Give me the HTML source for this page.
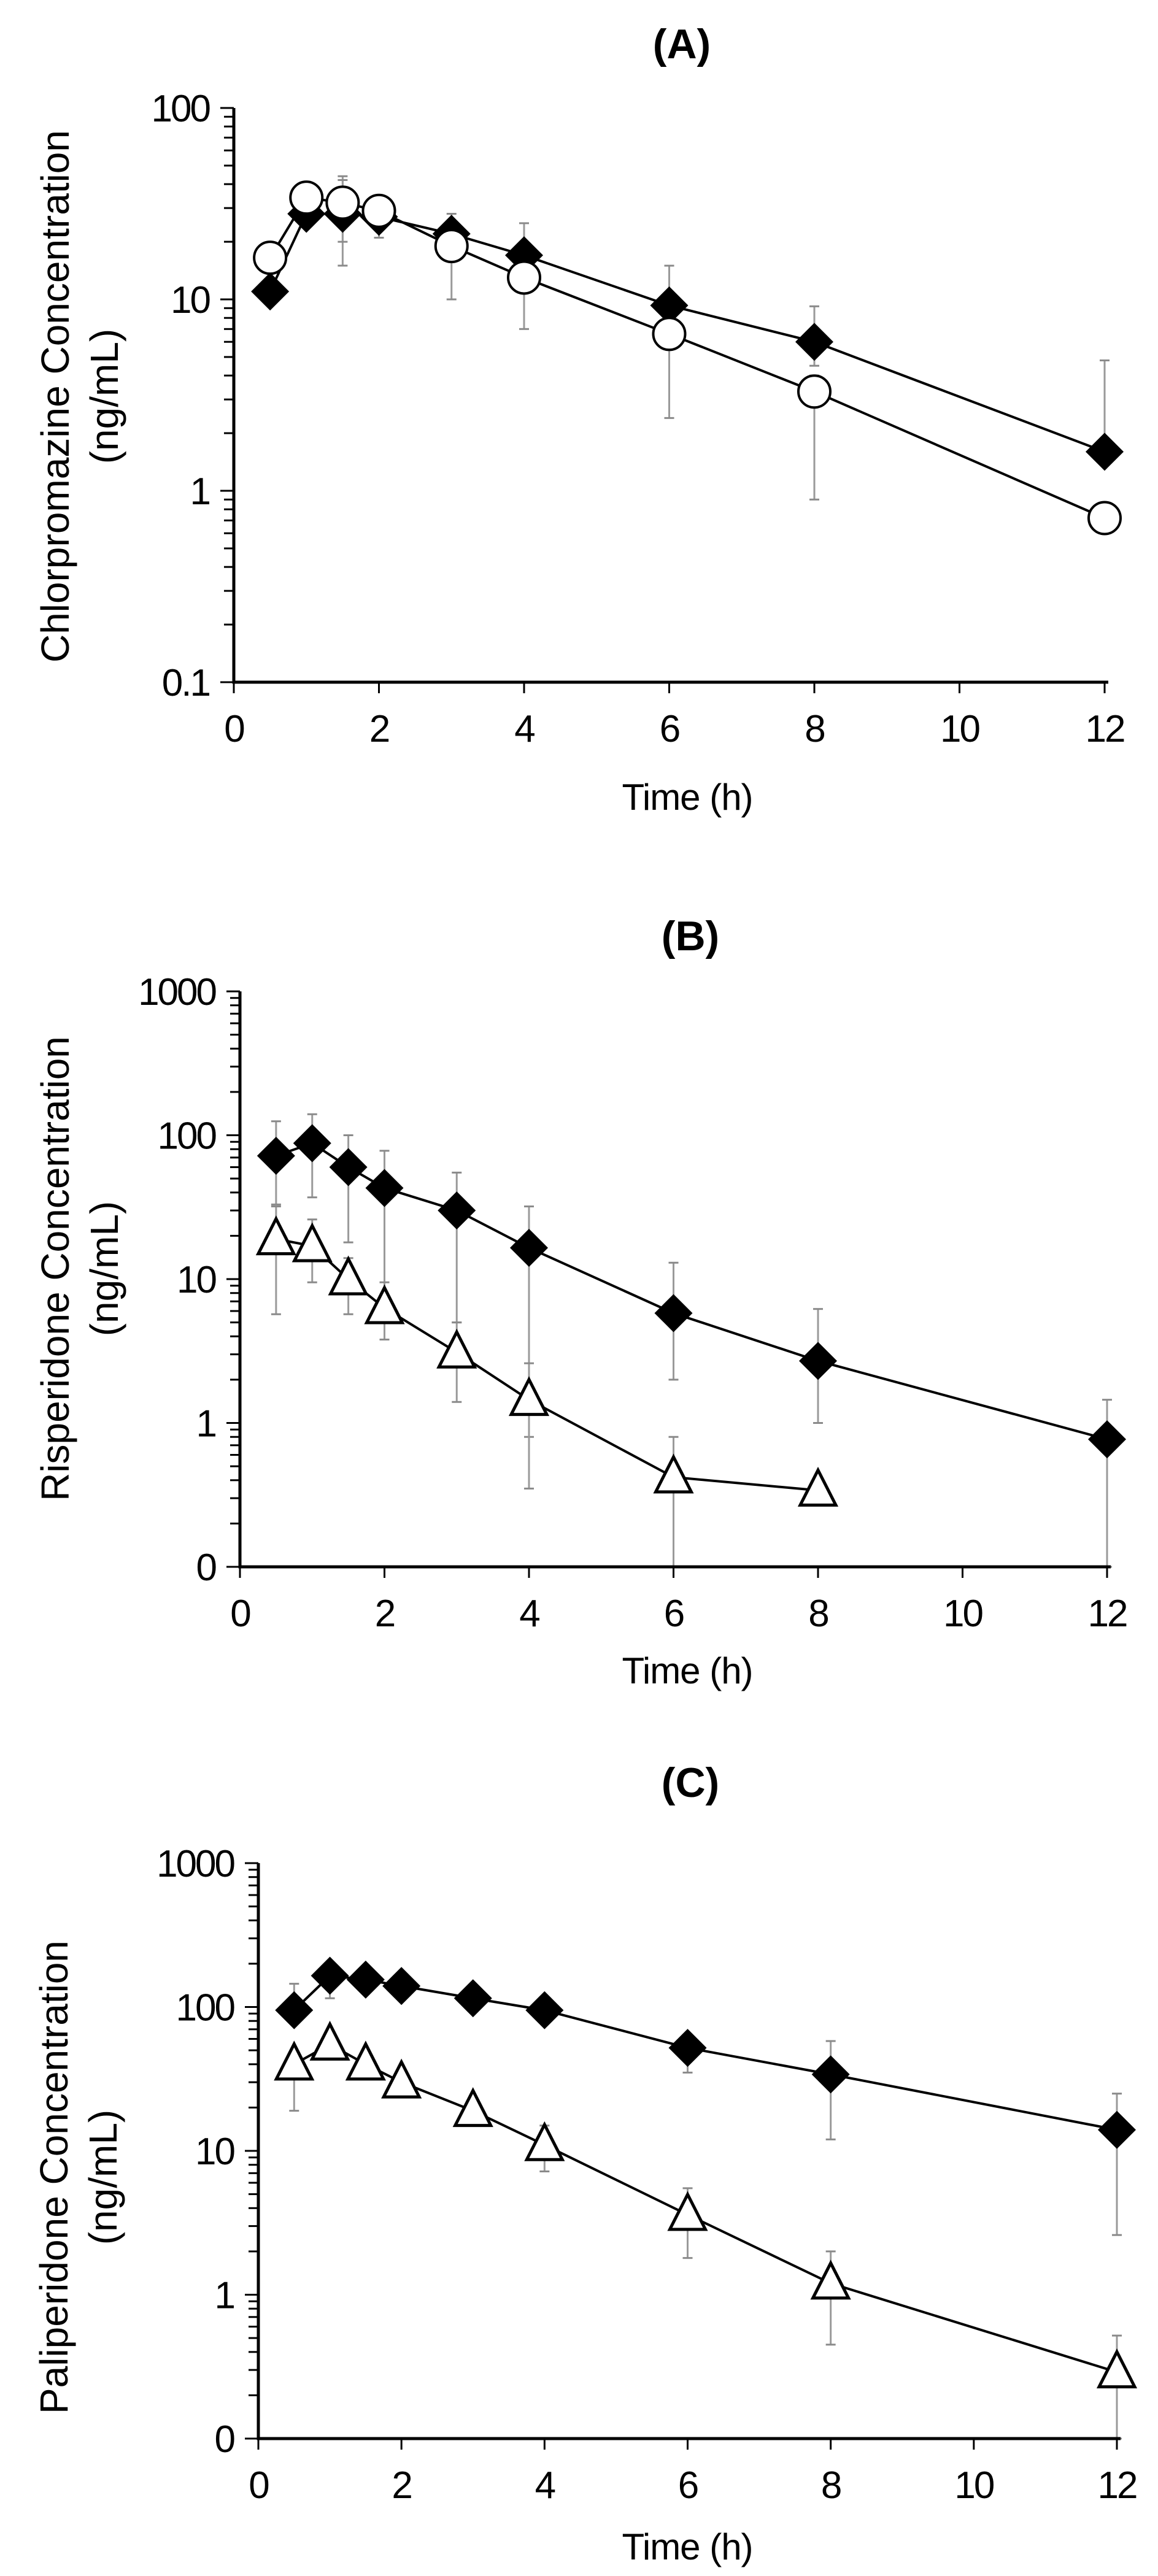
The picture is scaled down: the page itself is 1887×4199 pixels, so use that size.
<!DOCTYPE html>
<html><head><meta charset="utf-8">
<style>
html,body{margin:0;padding:0;background:#fff;}
svg{display:block;font-family:"Liberation Sans",Arial,sans-serif;}
</style></head>
<body>
<svg id="fig" width="1887" height="4199" viewBox="0 0 1887 4199" xmlns="http://www.w3.org/2000/svg"></svg>
<script>
// ---- data ----
const times = [0.5, 1, 1.5, 2, 3, 4, 6, 8, 12];
const xTickLabels = ["0","2","4","6","8","10","12"];
const xTickValues = [0,2,4,6,8,10,12];

// Panel A: chlorpromazine
const aDiamond = [11, 28, 28, 27, 22, 17, 9.3, 6, 1.6];
const aDiamondHi = [12, 33, 44, 33, 28, 25, 15, 9.2, 4.8];
const aDiamondLo = [10, 24, 15, 21, 18, 14, 7, 4.5, 1.6];
const aCircle = [16.5, 34, 32, 29, 19, 13, 6.6, 3.3, 0.72];
const aCircleHi = [17, 36, 42, 35, 24, 15, 8, 4, 0.8];
const aCircleLo = [16, 30, 20, 24, 10, 7, 2.4, 0.9, 0.7];
const aTickLabels = ["0.1","1","10","100"];
const aTickValues = [0.1, 1, 10, 100];

// Panel B: risperidone
const bDiamond = [72, 88, 60, 43, 30, 16.5, 5.8, 2.7, 0.77];
const bDiamondHi = [125, 140, 100, 78, 55, 32, 13, 6.2, 1.45];
const bDiamondLo = [33, 37, 18, 5, 5, 0.8, 2, 1, 0.1];
const bTriTimes = [0.5, 1, 1.5, 2, 3, 4, 6, 8];
const bTri = [19, 17, 10, 6.3, 3.1, 1.45, 0.42, 0.34];
const bTriHi = [32, 26, 14, 9.5, 5, 2.6, 0.8, 0.34];
const bTriLo = [5.7, 9.5, 5.7, 3.8, 1.4, 0.35, 0.1, 0.34];
const bTickLabels = ["0","1","10","100","1000"];
const bTickValues = [0.1, 1, 10, 100, 1000];

// Panel C: paliperidone
const cDiamond = [95, 165, 155, 140, 115, 95, 52, 34, 14];
const cDiamondHi = [145, 180, 165, 150, 125, 105, 60, 58, 25];
const cDiamondLo = [80, 115, 140, 125, 100, 85, 35, 12, 2.6];
const cTri = [40, 55, 40, 30, 19, 11, 3.6, 1.2, 0.29];
const cTriHi = [45, 60, 45, 33, 21, 15, 5.5, 2, 0.52];
const cTriLo = [19, 45, 35, 25, 16, 7.2, 1.8, 0.45, 0.1];
const cTickLabels = ["0","1","10","100","1000"];
const cTickValues = [0.1, 1, 10, 100, 1000];

const NS = "http://www.w3.org/2000/svg";
const svg = document.getElementById("fig");
function mk(tag, attrs, parent){
  const e = document.createElementNS(NS, tag);
  for (const k in attrs) e.setAttribute(k, attrs[k]);
  (parent||svg).appendChild(e);
  return e;
}

function panel(cfg){
  const g = mk("g", {});
  
  
  const x0 = cfg.x0, x1 = cfg.x1, yTop = cfg.yTop, yBot = cfg.yBot;
  const lmin = Math.log10(cfg.ymin), lmax = Math.log10(cfg.ymax);
  const X = t => x0 + (x1 - x0) * t / 12;
  const Y = v => yBot - (yBot - yTop) * (Math.log10(v) - lmin) / (lmax - lmin);

  // title
  const t = mk("text", {x: cfg.titleX, y: cfg.titleY, "font-size": 68, "font-weight": "bold", "text-anchor": "middle"}, g);
  t.textContent = cfg.title;
  
  

  // y-axis title
  const yt = mk("text", {transform: `translate(${cfg.yTitleX},${cfg.yTitleY}) rotate(-90)`, "font-size": 64, "text-anchor": "middle"}, g);
  
  
  const s1 = mk("tspan", {x: 0, y: 0}, yt); s1.textContent = cfg.yTitle;
  const s2 = mk("tspan", {x: 0, y: 80}, yt); s2.textContent = "(ng/mL)";

  // x-axis title
  const xt = mk("text", {x: 1120, y: cfg.xTitleY, "font-size": 60, "text-anchor": "middle", "letter-spacing": -1}, g);
  xt.textContent = "Time (h)";
  
  

  // error bars (behind)
  cfg.series.forEach(s => {
    s.vals.forEach((v, i) => {
      const cx = X(s.t[i]);
      const hi = s.hi[i], lo = s.lo[i];
      const e = mk("line", {x1: cx, x2: cx, y1: Y(hi), y2: Y(lo), stroke: "#9a9a9a", "stroke-width": 3}, g);
      
      
      [hi, lo].forEach(b => {
        const c = mk("line", {x1: cx - 8, x2: cx + 8, y1: Y(b), y2: Y(b), stroke: "#8a8a8a", "stroke-width": 3}, g);
        
        
      });
    });
  });

  // lines
  cfg.series.forEach(s => {
    const pts = s.vals.map((v, i) => X(s.t[i]) + "," + Y(v)).join(" ");
    const pl = mk("polyline", {points: pts, fill: "none", stroke: "#000", "stroke-width": 4}, g);
    
    
  });

  // markers
  cfg.series.forEach(s => {
    s.vals.forEach((v, i) => {
      const cx = X(s.t[i]), cy = Y(v);
      let m;
      if (s.marker === "diamond") {
        m = mk("polygon", {points: `${cx},${cy-31} ${cx+31},${cy} ${cx},${cy+31} ${cx-31},${cy}`, fill: "#000"}, g);
      } else if (s.marker === "circle") {
        m = mk("circle", {cx: cx, cy: cy, r: 26, fill: "#fff", stroke: "#000", "stroke-width": 4}, g);
      } else {
        m = mk("polygon", {points: `${cx},${cy-33} ${cx+29},${cy+24} ${cx-29},${cy+24}`, fill: "#fff", stroke: "#000", "stroke-width": 5}, g);
      }
      
      
    });
  });

  // axes
  const ax = mk("path", {d: `M${x0},${yTop} V${yBot} H${x1+6}`, fill: "none", stroke: "#000", "stroke-width": 5}, g);
  
  
  // y ticks
  for (let d = lmin; d < lmax; d++) {
    for (let k = 1; k < 10; k++) {
      const yy = Y(Math.pow(10, d) * k);
      const tk = mk("line", {x1: x0 - (k === 1 ? 22 : 16), x2: x0, y1: yy, y2: yy, stroke: "#000", "stroke-width": 3}, g);
      
      
    }
  }
  const tkTop = mk("line", {x1: x0 - 22, x2: x0, y1: yTop, y2: yTop, stroke: "#000", "stroke-width": 3}, g);
  
  
  cfg.yLabels.forEach((lab, i) => {
    const tl = mk("text", {x: x0 - 40, y: Y(cfg.yValues[i]) + 22, "font-size": 62, "text-anchor": "end", "letter-spacing": -3}, g);
    tl.textContent = lab;
    
    
  });
  // x ticks
  xTickValues.forEach((v, i) => {
    const xx = X(v);
    const tk = mk("line", {x1: xx, x2: xx, y1: yBot, y2: yBot + 18, stroke: "#000", "stroke-width": 3}, g);
    
    
    const tl = mk("text", {x: xx, y: yBot + 97, "font-size": 62, "text-anchor": "middle", "letter-spacing": -3}, g);
    tl.textContent = xTickLabels[i];
    
    
  });
}

panel({name: "panel-a-chlorpromazine", title: "(A)", titleX: 1111, titleY: 95,
  x0: 381, x1: 1800, yTop: 176, yBot: 1112, ymin: 0.1, ymax: 100,
  yTitle: "Chlorpromazine Concentration", yTitleX: 112, yTitleY: 646, xTitleY: 1320,
  yLabels: aTickLabels, yValues: aTickValues,
  series: [
    {name: "diamond", marker: "diamond", t: times, vals: aDiamond, hi: aDiamondHi, lo: aDiamondLo},
    {name: "circle", marker: "circle", t: times, vals: aCircle, hi: aCircleHi, lo: aCircleLo}
  ]});

panel({name: "panel-b-risperidone", title: "(B)", titleX: 1125, titleY: 1549,
  x0: 391, x1: 1804, yTop: 1616, yBot: 2554, ymin: 0.1, ymax: 1000,
  yTitle: "Risperidone Concentration", yTitleX: 112, yTitleY: 2068, xTitleY: 2744,
  yLabels: bTickLabels, yValues: bTickValues,
  series: [
    {name: "diamond", marker: "diamond", t: times, vals: bDiamond, hi: bDiamondHi, lo: bDiamondLo},
    {name: "triangle", marker: "triangle", t: bTriTimes, vals: bTri, hi: bTriHi, lo: bTriLo}
  ]});

panel({name: "panel-c-paliperidone", title: "(C)", titleX: 1125, titleY: 2929,
  x0: 421, x1: 1820, yTop: 3037, yBot: 3975, ymin: 0.1, ymax: 1000,
  yTitle: "Paliperidone Concentration", yTitleX: 110, yTitleY: 3549, xTitleY: 4172,
  yLabels: cTickLabels, yValues: cTickValues,
  series: [
    {name: "diamond", marker: "diamond", t: times, vals: cDiamond, hi: cDiamondHi, lo: cDiamondLo},
    {name: "triangle", marker: "triangle", t: times, vals: cTri, hi: cTriHi, lo: cTriLo}
  ]});
</script>
</body></html>
